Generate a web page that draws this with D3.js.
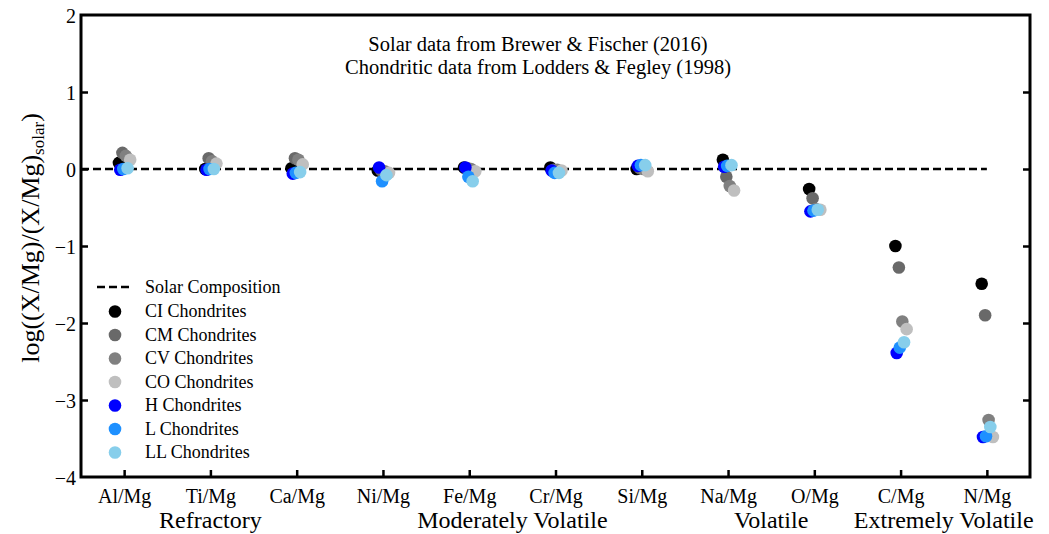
<!DOCTYPE html>
<html><head><meta charset="utf-8">
<script src="https://cdn.jsdelivr.net/npm/d3@7"></script>
<style>
body{margin:0;background:#fff;}
svg text{font-family:"Liberation Serif","Times New Roman",serif;fill:#000;}
</style></head>
<body><svg id="c" width="1049" height="534"></svg>
<script>
const ratios = ["Al/Mg","Ti/Mg","Ca/Mg","Ni/Mg","Fe/Mg","Cr/Mg","Si/Mg","Na/Mg","O/Mg","C/Mg","N/Mg"];
const groups = [
  {label:"Refractory", from:0, to:2},
  {label:"Moderately Volatile", from:4, to:5},
  {label:"Volatile", from:7, to:8},
  {label:"Extremely Volatile", from:9, to:10}
];
const seriesNames = ["CI Chondrites","CM Chondrites","CV Chondrites","CO Chondrites","H Chondrites","L Chondrites","LL Chondrites"];
const seriesColors = ["#000000","#696969","#808080","#bfbfbf","#0000ff","#1e90ff","#87ceeb"];
const seriesJitter = [-0.06,-0.02,0.02,0.07,-0.045,-0.01,0.04];
const CI = [0.08,0.00,0.01,-0.02,0.02,0.02,0.00,0.12,-0.26,-1.00,-1.49];
const CM = [0.21,0.14,0.14,-0.02,0.01,-0.01,0.01,-0.10,-0.38,-1.28,-1.90];
const CV = [0.17,0.10,0.12,-0.03,0.00,-0.01,0.00,-0.22,-0.52,-1.98,-3.26];
const CO = [0.12,0.07,0.06,-0.05,-0.03,-0.02,-0.03,-0.28,-0.53,-2.08,-3.48];
const H  = [-0.01,-0.01,-0.06,0.02,0.02,-0.02,0.04,0.03,-0.55,-2.39,-3.48];
const L  = [0.00,0.00,-0.05,-0.16,-0.10,-0.05,0.05,0.04,-0.54,-2.32,-3.47];
const LL = [0.01,0.00,-0.04,-0.08,-0.16,-0.05,0.05,0.05,-0.53,-2.25,-3.35];
const seriesValues = [CI,CM,CV,CO,H,L,LL];
const yTicks = [-4,-3,-2,-1,0,1,2];
const solarValue = 0;
const titleLines = ["Solar data from Brewer & Fischer (2016)","Chondritic data from Lodders & Fegley (1998)"];

const svg = d3.select("#c");
const M = {l:81, r:1030, t:15, b:477};
const x = d3.scaleLinear().domain([-0.5,10.5]).range([M.l,M.r]);
const y = d3.scaleLinear().domain([-4,2]).range([M.b,M.t]);

// solar line
svg.append("line").attr("x1",x(-0.5)).attr("x2",x(10)).attr("y1",y(solarValue)).attr("y2",y(solarValue))
  .attr("stroke","#000").attr("stroke-width",2.4).attr("stroke-dasharray","8,4");

// points
seriesValues.forEach((vals,si)=>{
  svg.append("g").selectAll("circle").data(vals).join("circle")
    .attr("cx",(d,i)=>x(i+seriesJitter[si])).attr("cy",d=>y(d)).attr("r",6.3)
    .attr("fill",seriesColors[si]);
});

// axes (ticks inward)
const axL = svg.append("g").attr("transform",`translate(${M.l},0)`)
  .call(d3.axisLeft(y).tickValues(yTicks).tickSize(-7).tickPadding(5).tickFormat(d=>d<0?"\u2212"+Math.abs(d):d));
const axR = svg.append("g").attr("transform",`translate(${M.r},0)`)
  .call(d3.axisRight(y).tickValues(yTicks).tickSize(-7).tickFormat(""));
const axB = svg.append("g").attr("transform",`translate(0,${M.b})`)
  .call(d3.axisBottom(x).tickValues(d3.range(ratios.length)).tickSize(-7).tickPadding(12).tickFormat(i=>ratios[i]));
[axL,axR,axB].forEach(a=>{
  a.select(".domain").remove();
  a.selectAll(".tick line").attr("stroke","#000").attr("stroke-width",2.5);
  a.selectAll(".tick text").attr("font-size",20).attr("font-family","Liberation Serif").attr("fill","#000");
});
axL.selectAll(".tick text").attr("dy","0.35em");
axL.selectAll(".tick").filter(d=>d===2||d===-4).select("line").remove();
axR.selectAll(".tick").filter(d=>d===2||d===-4).select("line").remove();
// frame
svg.append("rect").attr("x",M.l).attr("y",M.t).attr("width",M.r-M.l).attr("height",M.b-M.t)
  .attr("fill","none").attr("stroke","#000").attr("stroke-width",3);

// group labels
svg.append("g").selectAll("text").data(groups).join("text")
  .attr("x",d=>(x(d.from)+x(d.to))/2)
  .attr("y",528).attr("text-anchor","middle").attr("font-size",24)
  .text(d=>d.label);

// title
svg.append("g").selectAll("text").data(titleLines).join("text")
  .attr("x",538).attr("y",(d,i)=>51+i*23).attr("text-anchor","middle").attr("font-size",20.5).text(d=>d);

// y label
const yl = svg.append("text").attr("transform","translate(39,238) rotate(-90)")
  .attr("text-anchor","middle").attr("font-size",26);
yl.append("tspan").text("log((X/Mg)/(X/Mg)");
yl.append("tspan").attr("font-size",17).attr("dy",5).text("solar");
yl.append("tspan").attr("dy",-5).text(")");

// legend
const lg = svg.append("g");
lg.append("line").attr("x1",97).attr("x2",132).attr("y1",287).attr("y2",287)
  .attr("stroke","#000").attr("stroke-width",2.4).attr("stroke-dasharray","8,4");
lg.append("text").attr("x",145).attr("y",292.5).attr("font-size",18).text("Solar Composition");
seriesNames.forEach((n,i)=>{
  const yy = 311.5 + i*23.5;
  lg.append("circle").attr("cx",115).attr("cy",yy).attr("r",6.3).attr("fill",seriesColors[i]);
  lg.append("text").attr("x",145).attr("y",yy+5.5).attr("font-size",18).text(n);
});
</script></body></html>
